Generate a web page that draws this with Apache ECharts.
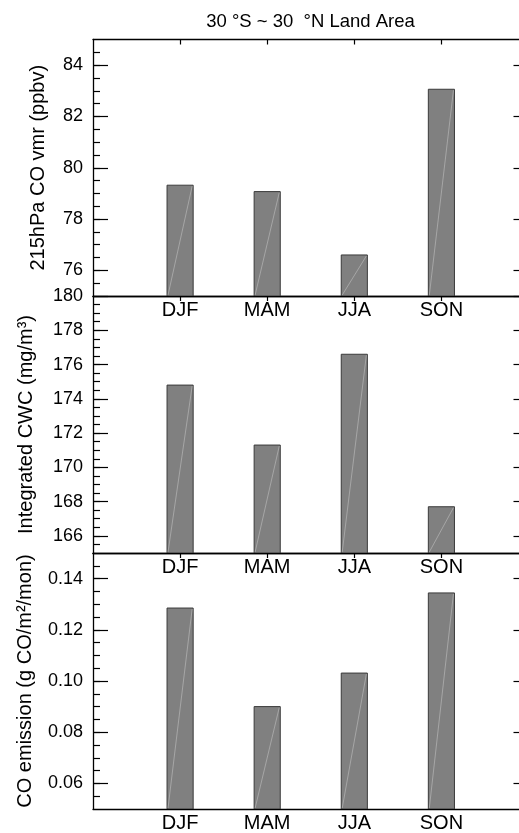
<!DOCTYPE html>
<html><head><meta charset="utf-8">
<script src="https://cdn.jsdelivr.net/npm/echarts@6/dist/echarts.min.js"></script>
<style>html,body{margin:0;padding:0;overflow:hidden;background:#fff}#c{width:540px;height:833px}</style>
</head><body><div id="c"></div>
<script>
// ---- data ----
const categories = ['DJF', 'MAM', 'JJA', 'SON'];
const coVmr = [79.32, 79.07, 76.60, 83.06];
const cwc = [174.8, 171.3, 176.6, 167.7];
const coEmission = [0.1285, 0.0900, 0.1031, 0.1344];
const coTicks = [76, 78, 80, 82, 84];
const cwcTicks = [166, 168, 170, 172, 174, 176, 178, 180];
const emisTicks = [0.06, 0.08, 0.10, 0.12, 0.14];
const coRange = [75, 85];
const cwcRange = [165, 180];
const emisRange = [0.05, 0.15];
const titleText = '30 \u00B0S ~ 30  \u00B0N Land Area';
const yNames = ['215hPa CO vmr (ppbv)', 'Integrated CWC (mg/m\u00B3)', 'CO emission (g CO/m\u00B2/mon)'];

// ---- layout / style ----
const FONT = 'Liberation Sans, Arial, Helvetica, sans-serif';
const panels = [
  { values: coVmr, ticks: coTicks, range: coRange, minor: 0.5, dec: 0, top: 39.5, height: 256.5, gap: 45 },
  { values: cwc, ticks: cwcTicks, range: cwcRange, minor: 0.5, dec: 0, top: 296, height: 257, gap: 57 },
  { values: coEmission, ticks: emisTicks, range: emisRange, minor: 0.005, dec: 2, top: 553, height: 256, gap: 58 }
];
const barWidth = 0.3;
const axisLine = { show: true, onZero: false, lineStyle: { color: '#000', width: 1.3 } };

function minorValues(range, step) {
  const out = [];
  const n = Math.round((range[1] - range[0]) / step);
  for (let k = 1; k < n; k++) out.push(+(range[0] + k * step).toFixed(6));
  return out;
}

const grid = [], xAxis = [], yAxis = [], series = [];
panels.forEach((p, i) => {
  grid.push({ left: 93, width: 435.5, top: p.top, height: p.height });
  xAxis.push({
    type: 'value', gridIndex: i, position: 'bottom', min: 0, max: 5,
    axisLine: axisLine, splitLine: { show: false },
    axisTick: { show: false },
    axisLabel: {
      customValues: [1, 2, 3, 4], margin: 4,
      formatter: v => categories[Math.round(v) - 1] || '',
      color: '#000', fontSize: 20, fontFamily: FONT
    }
  });
  xAxis.push({
    type: 'value', gridIndex: i, position: 'top', min: 0, max: 5,
    axisLine: axisLine, splitLine: { show: false },
    axisTick: { show: true, inside: true, length: 5, customValues: [1, 2, 3, 4], lineStyle: { color: '#000', width: 1.2 } },
    axisLabel: { show: false }
  });
  yAxis.push({
    type: 'value', gridIndex: i, position: 'left', min: p.range[0], max: p.range[1],
    axisLine: axisLine, splitLine: { show: false },
    axisTick: { show: true, inside: true, length: 15, customValues: p.ticks, lineStyle: { color: '#000', width: 1.2 } },
    axisLabel: {
      customValues: p.ticks, margin: 10, formatter: v => v.toFixed(p.dec),
      color: '#000', fontSize: 18, fontFamily: FONT
    },
    name: yNames[i], nameLocation: 'middle', nameRotate: 90, nameGap: p.gap,
    nameTextStyle: { color: '#000', fontSize: 20, fontFamily: FONT }
  });
  yAxis.push({
    type: 'value', gridIndex: i, position: 'left', min: p.range[0], max: p.range[1],
    axisLine: { show: false, onZero: false }, splitLine: { show: false },
    axisTick: { show: true, inside: true, length: 7, customValues: minorValues(p.range, p.minor), lineStyle: { color: '#000', width: 1.2 } },
    axisLabel: { show: false }
  });
  yAxis.push({
    type: 'value', gridIndex: i, position: 'right', min: p.range[0], max: p.range[1],
    axisLine: axisLine, splitLine: { show: false },
    axisTick: { show: true, inside: true, length: 15, customValues: p.ticks, lineStyle: { color: '#000', width: 1.2 } },
    axisLabel: { show: false }
  });
  const base = p.range[0];
  series.push({
    type: 'custom', xAxisIndex: 2 * i, yAxisIndex: 3 * i, clip: true,
    data: p.values.map((v, k) => [k + 1, v]),
    renderItem: function (params, api) {
      const x = api.value(0), v = api.value(1);
      const p0 = api.coord([x - barWidth / 2, base]);
      const p1 = api.coord([x + barWidth / 2, v]);
      return {
        type: 'group', children: [
          { type: 'rect', shape: { x: p0[0], y: p1[1], width: p1[0] - p0[0], height: p0[1] - p1[1] },
            style: { fill: '#808080', stroke: '#3a3a3a', lineWidth: 1 } },
          { type: 'line', shape: { x1: p0[0] + 1, y1: p0[1] - 1, x2: p1[0] - 1, y2: p1[1] + 1 },
            style: { stroke: '#c0c0c0', lineWidth: 0.6 } }
        ]
      };
    }
  });
});

const chart = echarts.init(document.getElementById('c'), null, { renderer: 'canvas' });
chart.setOption({
  animation: false,
  backgroundColor: '#fff',
  grid: grid, xAxis: xAxis, yAxis: yAxis, series: series,
  graphic: [{
    type: 'text', x: 310.5, y: 22,
    style: { text: titleText, align: 'center', verticalAlign: 'middle', fill: '#000', font: '18.5px ' + FONT }
  }]
});
</script>
</body></html>
